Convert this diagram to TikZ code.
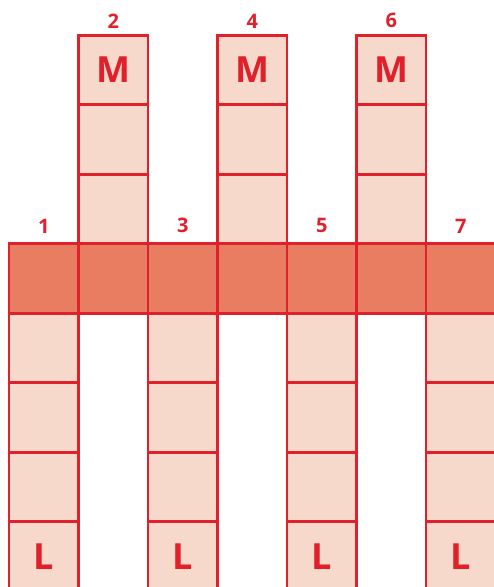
\documentclass[tikz,border=0pt]{standalone}
\usepackage{fontspec}
\setmainfont{Open Sans}
\usetikzlibrary{positioning}

\definecolor{cellred}{HTML}{E0202A}
\definecolor{cellpink}{HTML}{F7D9CC}
\definecolor{bandfill}{HTML}{E87D62}

\begin{document}
\begin{tikzpicture}[x=1pt,y=-1pt,
      cell/.style={draw=cellred, fill=cellpink, line width=2.7pt, minimum width=69.5pt,
        minimum height=69.5pt, inner sep=0pt, outer sep=0pt,
        font=\fontsize{36}{36}\selectfont\bfseries, text=cellred},
      band/.style={cell, fill=bandfill},
      num/.style={font=\fontsize{20}{20}\selectfont\bfseries, text=cellred, inner sep=0pt},
      every label/.style={num},
      label distance=7pt
    ]
    \useasboundingbox (0,0) rectangle (494,587);
    \clip (0,0) rectangle (494,587);
    % middle band of seven cells
    \foreach \i in {1,...,7}
      \node[band] (b\i) at ({9+69.5*(\i-0.5)},278.5) {};
    % upper columns, M on top
    \foreach \i in {2,4,6} {
      \node[cell, above=0pt of b\i] (u\i a) {};
      \node[cell, above=0pt of u\i a] (u\i b) {};
      \node[cell, above=0pt of u\i b, label=above:\i] (u\i c) {M};
    }
    % lower columns, L at the bottom
    \foreach \i in {1,3,5,7} {
      \node[label=above:\i] at (b\i.north) {};
      \node[cell, below=0pt of b\i] (d\i a) {};
      \node[cell, below=0pt of d\i a] (d\i b) {};
      \node[cell, below=0pt of d\i b] (d\i c) {};
      \node[cell, below=0pt of d\i c] (d\i d) {L};
    }
  \end{tikzpicture}
\end{document}
